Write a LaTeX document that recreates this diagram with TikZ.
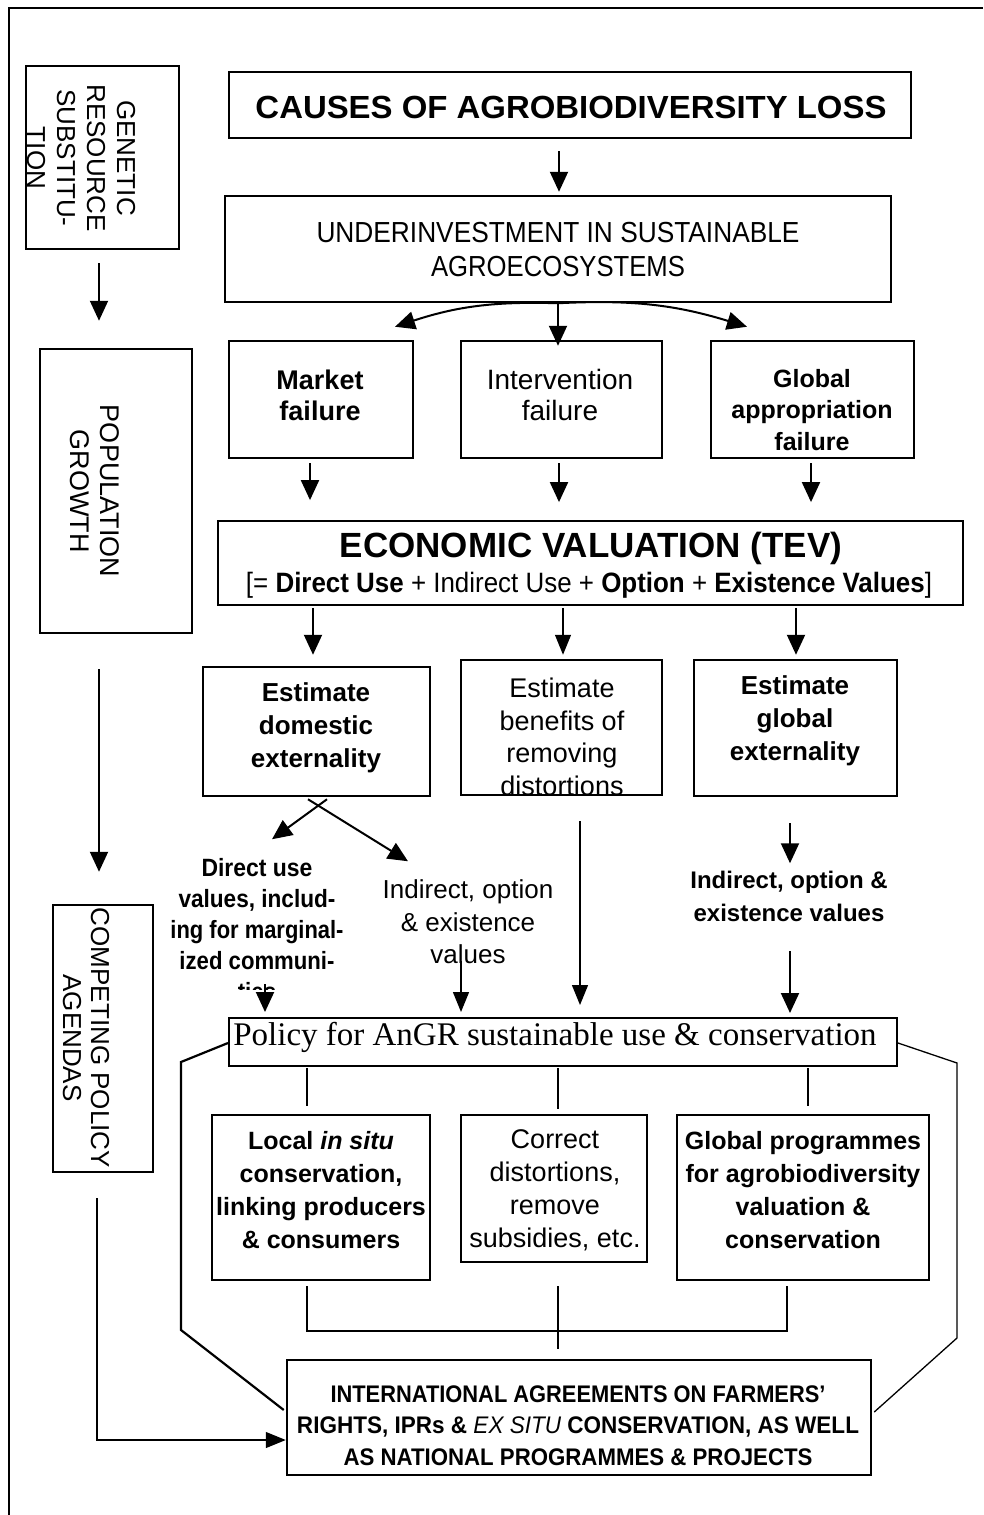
\documentclass[tikz,border=0pt]{standalone}
\usepackage{fontspec}
\usepackage{graphicx}
\setmainfont{Liberation Sans}
\newfontfamily\serifp{Liberation Serif}
\usetikzlibrary{arrows.meta,calc}
\newcommand\fw[2]{\resizebox{#1pt}{\height}{#2}}
\begin{document}
\begin{tikzpicture}[x=1pt,y=-1pt,
  box/.style={draw,line width=2.5pt,inner sep=0pt},
  txt/.style={align=center,inner sep=0pt},
  arr/.style={line width=2pt,-{Triangle[width=18pt,length=20pt]}},
  thinarr/.style={line width=1.3pt,-{Triangle[width=16pt,length=20pt]}},
  ln/.style={line width=2.2pt},
  thinln/.style={line width=1.3pt}]
\useasboundingbox (0,0) rectangle (983,1515);
\fill[white] (0,0) rectangle (983,1515);
\draw[line width=1.3pt] (9,1515) -- (9,8) -- (983,8);

% boxes
\node[box,minimum width=153pt,minimum height=183pt] (gen) at (102.5,157.5) {};
\node[box,minimum width=152pt,minimum height=284pt] (pop) at (116,491) {};
\node[box,minimum width=100pt,minimum height=267pt] (comp) at (103,1038.5) {};
\node[box,minimum width=682pt,minimum height=66pt] (causes) at (570,105) {};
\node[box,minimum width=666pt,minimum height=106pt] (under) at (558,249) {};
\node[box,minimum width=184pt,minimum height=117pt] (market) at (321,399.5) {};
\node[box,minimum width=201pt,minimum height=117pt] (interv) at (561.5,399.5) {};
\node[box,minimum width=203pt,minimum height=117pt] (globalf) at (812.5,399.5) {};
\node[box,line width=1.8pt,minimum width=745pt,minimum height=84pt] (econ) at (590.5,563) {};
\node[box,minimum width=227pt,minimum height=129pt] (estdom) at (316.5,731.5) {};
\node[box,minimum width=201pt,minimum height=135pt] (estben) at (561.5,727.5) {};
\node[box,minimum width=203pt,minimum height=136pt] (estglob) at (795.5,728) {};
\node[box,line width=2pt,minimum width=668pt,minimum height=48pt] (policy) at (563,1042) {};
\node[box,minimum width=218pt,minimum height=165pt] (local) at (321,1197.5) {};
\node[box,minimum width=186pt,minimum height=147pt] (correct) at (554,1188.5) {};
\node[box,minimum width=252pt,minimum height=165pt] (globprog) at (803,1197.5) {};
\node[box,minimum width=584pt,minimum height=115pt] (intl) at (579,1417.5) {};

% rotated texts (clipped to their boxes)
\begin{scope}
\clip (gen.south west) rectangle (gen.north east);
\node[txt,rotate=-90,font=\fontsize{26}{30}\selectfont] (tgen) at (81,158) {GENETIC\\RESOURCE\\SUBSTITU-\\TION};
\end{scope}
\node[txt,rotate=-90,font=\fontsize{27}{30}\selectfont] (tpop) at (95,491) {POPULATION\\GROWTH};
\begin{scope}
\clip (comp.south west) rectangle (comp.north east);
\node[txt,rotate=-90,font=\fontsize{26}{28}\selectfont] (tcomp) at (86,1038) {COMPETING POLICY\\AGENDAS};
\end{scope}

% texts
\node[txt,font=\bfseries\fontsize{32}{36}\selectfont] (tcauses) at (571,107.5) {\fw{631}{CAUSES OF AGROBIODIVERSITY LOSS}};
\node[txt,font=\fontsize{29}{34}\selectfont] (tunder) at (558,250) {\fw{483}{UNDERINVESTMENT IN SUSTAINABLE}\\\fw{254}{AGROECOSYSTEMS}};
\node[txt,font=\bfseries\fontsize{27}{31}\selectfont] (tmarket) at (320,395) {Market\\failure};
\node[txt,font=\fontsize{28}{31}\selectfont] (tinterv) at (560,395) {Intervention\\failure};
\node[txt,font=\bfseries\fontsize{25}{31.5}\selectfont] (tglobalf) at (812,410) {Global\\appropriation\\failure};
\node[txt,font=\bfseries\fontsize{35}{38}\selectfont] (tecon1) at (591,548) {ECONOMIC VALUATION (TEV)};
\node[txt,font=\fontsize{28}{32}\selectfont] (tecon2) at (589,585) {\fw{686}{[= \textbf{Direct Use} + Indirect Use + \textbf{Option} + \textbf{Existence Values}]}};
\node[txt,font=\bfseries\fontsize{26}{33}\selectfont] (testdom) at (316,728) {Estimate\\domestic\\externality};
\begin{scope}
\clip (estben.south west) rectangle (estben.north east);
\node[txt,font=\fontsize{27}{32.5}\selectfont] (testben) at (562,737) {Estimate\\benefits of\\removing\\distortions};
\end{scope}
\node[txt,font=\bfseries\fontsize{26}{33}\selectfont] (testglob) at (795,721) {Estimate\\global\\externality};
\begin{scope}
\clip (140,845) rectangle (370,989);
\node[txt,font=\bfseries\fontsize{25}{31}\selectfont] (tdirect) at (257,930) {\fw{111}{Direct use}\\\fw{157}{values, includ-}\\\fw{173}{ing for marginal-}\\\fw{155}{ized communi-}\\\scalebox{0.89}[1]{ties}};
\end{scope}
\node[txt,font=\fontsize{26}{32.5}\selectfont] (tindr) at (468,922) {Indirect, option\\\& existence\\values};
\node[txt,font=\bfseries\fontsize{24}{33}\selectfont] (tindb) at (789,896) {Indirect, option \&\\existence values};
\node[txt,font=\serifp\fontsize{33}{36}\selectfont] (tpolicy) at (555,1037) {Policy for AnGR sustainable use \& conservation};
\node[txt,font=\bfseries\fontsize{25}{32.7}\selectfont] (tlocal) at (321,1190) {Local \textit{in situ}\\conservation,\\linking producers\\\& consumers};
\node[txt,font=\fontsize{27}{33}\selectfont] (tcorrect) at (555,1190) {Correct\\distortions,\\remove\\subsidies, etc.};
\node[txt,font=\bfseries\fontsize{25}{32.7}\selectfont] (tglobprog) at (803,1190) {Global programmes\\for agrobiodiversity\\valuation \&\\conservation};
\node[txt,font=\bfseries\fontsize{24}{31.5}\selectfont] (tintl) at (578,1425.5) {\fw{495}{INTERNATIONAL AGREEMENTS ON FARMERS'}\\\fw{562}{RIGHTS, IPRs \& {\mdseries\itshape EX SITU} CONSERVATION, AS WELL}\\\fw{469}{AS NATIONAL PROGRAMMES \& PROJECTS}};

% connectors, left column
\draw[arr] ($(gen.south)+(-3.5,13)$) -- ($(pop.north)+(-17,-27)$);
\draw[arr] ($(pop.south)+(-17,35)$) -- ($(comp.north)+(-4,-32)$);
\draw[thinarr] ($(comp.south)+(-6,25)$) |- ($(intl.west)+(0,22.5)$);

% top
\draw[arr] ($(causes.south)+(-11,12)$) -- ($(under.north)+(1,-3)$);
\draw[arr] (under.south) to[bend right=10] ($(market.north)+(74,-13)$);
\draw[arr] (under.south) -- ($(interv.north)+(-3.5,6)$);
\draw[arr] (under.south) to[bend left=10] ($(globalf.north)+(-65.5,-13)$);

% to econ
\draw[arr] ($(market.south)+(-11,4)$) -- ($(market.south|-econ.north)+(-11,-20)$);
\draw[arr] ($(interv.south)+(-2.5,4)$) -- ($(interv.south|-econ.north)+(-2.5,-18)$);
\draw[arr] ($(globalf.south)+(-1.5,4)$) -- ($(globalf.south|-econ.north)+(-1.5,-18)$);

% econ to estimates
\draw[arr] ($(estdom.north|-econ.south)+(-3.5,2)$) -- ($(estdom.north)+(-3.5,-11)$);
\draw[thinarr] ($(estben.north|-econ.south)+(1.5,2)$) -- ($(estben.north)+(1.5,-4)$);
\draw[arr] ($(estglob.north|-econ.south)+(0.5,2)$) -- ($(estglob.north)+(0.5,-4)$);

% cross
\draw[arr] ($(estdom.south)+(10.5,2)$) -- ($(estdom.south)+(-44.5,42)$);
\draw[arr] ($(estdom.south)+(-8.5,2)$) -- ($(estdom.south)+(91.5,64)$);

% down to policy
\draw[thinarr] ($(estben.south)+(18.5,25)$) -- ($(estben.south|-policy.north)+(18.5,-12)$);
\draw[arr] ($(estglob.south)+(-5.5,26)$) -- ($(estglob.south)+(-5.5,66)$);
\draw[arr] ($(estglob.south|-policy.north)+(-5.5,-66)$) -- ($(estglob.south|-policy.north)+(-5.5,-4)$);
\draw[arr] ($(policy.north)+(-298,-33)$) -- ($(policy.north)+(-298,-5)$);
\draw[thinarr] ($(policy.north)+(-102,-56)$) -- ($(policy.north)+(-102,-5)$);

% policy to boxes
\draw[ln] ($(local.north|-policy.south)+(-14,1)$) -- ($(local.north)+(-14,-8)$);
\draw[thinln] ($(policy.south)+(-5,1)$) -- ($(correct.north)+(4,-5)$);
\draw[ln] ($(globprog.north|-policy.south)+(5,1)$) -- ($(globprog.north)+(5,-8)$);

% bracket
\draw[ln] ($(local.south)+(-14,5)$) |- ($(globprog.south)+(-16,50)$) -- ($(globprog.south)+(-16,5)$);
\draw[thinln] ($(correct.south)+(4,23)$) -- ($(intl.north)+(-21,-10)$);

% loops
\draw[ln] ($(policy.west)+(0,1)$) -- ($(policy.west)+(-47,20)$) -- ($(policy.west)+(-47,288)$) -- ($(intl.west)+(-2,-7.5)$);
\draw[thinln] ($(policy.east)+(0,1)$) -- ($(policy.east)+(59,21)$) -- ($(policy.east)+(59,296)$) -- ($(intl.east)+(2,-5.5)$);
\end{tikzpicture}
\end{document}
